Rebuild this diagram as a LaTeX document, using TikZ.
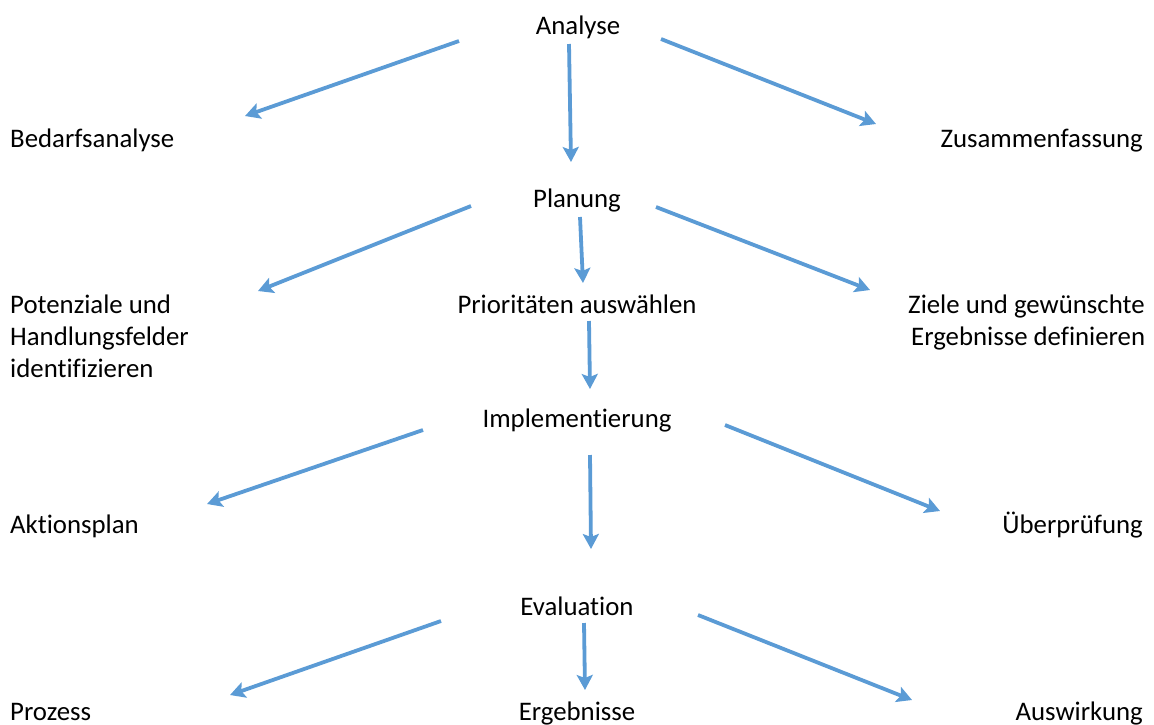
\documentclass[tikz,border=0pt]{standalone}
\usepackage{fontspec}
\setmainfont[Ligatures={NoCommon}]{Carlito}
\usetikzlibrary{arrows.meta}
\definecolor{arrowblue}{RGB}{91,155,213}
\begin{document}
\begin{tikzpicture}[x=1pt,y=-1pt,
  lbl/.style={inner sep=0pt,font=\fontsize{26.8}{32}\selectfont,text=black},
  arr/.style={draw=arrowblue,line width=3.8pt,-{Stealth[length=15pt,width=16pt,inset=3pt]}}]
\useasboundingbox (0,0) rectangle (1154,724);
% labels
\node[lbl,anchor=base] (analyse) at (578,34) {Analyse};
\node[lbl,anchor=base west] (bedarf) at (10,147) {Bedarfsanalyse};
\node[lbl,anchor=base east] (zusammen) at (1143,147) {Zusammenfassung};
\node[lbl,anchor=base] (planung) at (577,207) {Planung};
\node[lbl,anchor=base west,align=left] (potenz) at (10,377) {Potenziale und\\Handlungsfelder\\identifizieren};
\node[lbl,anchor=base] (prio) at (577,313) {Prioritäten auswählen};
\node[lbl,anchor=base west,align=left] (ziele) at (908,345) {Ziele und gewünschte\\\hspace*{3pt}Ergebnisse definieren};
\node[lbl,anchor=base] (impl) at (577,427) {Implementierung};
\node[lbl,anchor=base west] (aktion) at (10,533) {Aktionsplan};
\node[lbl,anchor=base east] (pruef) at (1143,533) {Überprüfung};
\node[lbl,anchor=base] (eval) at (577,615) {Evaluation};
\node[lbl,anchor=base west] (prozess) at (10,720) {Prozess};
\node[lbl,anchor=base] (ergeb) at (577,720) {Ergebnisse};
\node[lbl,anchor=base east] (auswirk) at (1143,720) {Auswirkung};
% arrow endpoints
\coordinate (a1s) at (459,41);  \coordinate (a1e) at (245,116);
\coordinate (a2s) at (569,44);  \coordinate (a2e) at (571,162);
\coordinate (a3s) at (661,39);  \coordinate (a3e) at (876,124);
\coordinate (b1s) at (471,206); \coordinate (b1e) at (258,291);
\coordinate (b2s) at (580,217); \coordinate (b2e) at (583,283);
\coordinate (b3s) at (656,207); \coordinate (b3e) at (870,290);
\coordinate (c0s) at (589,321); \coordinate (c0e) at (590,389);
\coordinate (d1s) at (423,430); \coordinate (d1e) at (207,504);
\coordinate (d2s) at (590,455); \coordinate (d2e) at (591,549);
\coordinate (d3s) at (725,425); \coordinate (d3e) at (940,511);
\coordinate (e1s) at (441,621); \coordinate (e1e) at (230,695);
\coordinate (e2s) at (584,623); \coordinate (e2e) at (585,690);
\coordinate (e3s) at (698,615); \coordinate (e3e) at (912,700);
% arrows
\draw[arr] (a1s) -- (a1e);
\draw[arr] (a2s) -- (a2e);
\draw[arr] (a3s) -- (a3e);
\draw[arr] (b1s) -- (b1e);
\draw[arr] (b2s) -- (b2e);
\draw[arr] (b3s) -- (b3e);
\draw[arr] (c0s) -- (c0e);
\draw[arr] (d1s) -- (d1e);
\draw[arr] (d2s) -- (d2e);
\draw[arr] (d3s) -- (d3e);
\draw[arr] (e1s) -- (e1e);
\draw[arr] (e2s) -- (e2e);
\draw[arr] (e3s) -- (e3e);
\end{tikzpicture}
\end{document}
